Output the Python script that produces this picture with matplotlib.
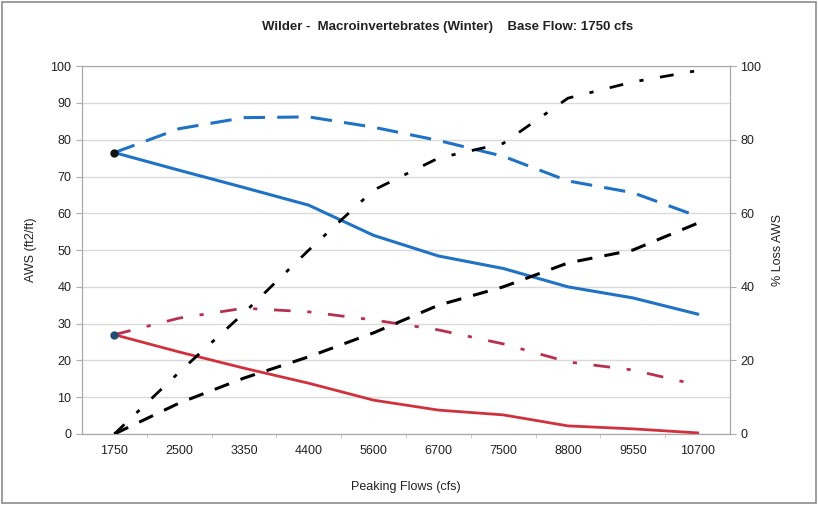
import matplotlib
matplotlib.use("Agg")
import matplotlib.pyplot as plt
from matplotlib.patches import Rectangle

plt.rcParams['font.family'] = ['Liberation Sans', 'DejaVu Sans']

flows = ["1750", "2500", "3350", "4400", "5600", "6700", "7500", "8800", "9550", "10700"]

# AWS (ft2/ft), left axis
aws_blue_solid = [76.5, 71.7, 67.0, 62.2, 54.0, 48.4, 45.0, 40.0, 37.0, 32.6]
aws_blue_dash = [76.5, 83.0, 86.0, 86.2, 83.4, 79.8, 75.5, 68.8, 65.6, 59.2]
aws_red_solid = [27.0, 22.3, 17.9, 13.8, 9.2, 6.5, 5.2, 2.2, 1.4, 0.3]
aws_red_dashdot = [27.0, 31.5, 34.2, 33.2, 31.0, 28.3, 24.5, 19.6, 17.4, 13.3]

# % Loss AWS, right axis
loss_dash = [0, 8.4, 15.2, 21.0, 27.5, 35.0, 40.0, 46.5, 50.0, 57.3]
loss_dashdot = [0, 16.8, 32.9, 50.0, 66.3, 75.0, 79.0, 91.3, 95.7, 98.8]

x = list(range(len(flows)))

fig = plt.figure(figsize=(8.18, 5.05), dpi=100)
fig.patches.append(Rectangle((0.003, 0.004), 0.994, 0.992, transform=fig.transFigure,
                             fill=False, edgecolor="#8c8c8c", linewidth=1.2))
ax = fig.add_axes([0.1002, 0.1406, 0.7922, 0.7284])
ax2 = ax.twinx()

blue = "#1f72c4"
red = "#d0313d"
crimson = "#b8304f"

ax.plot(x, aws_blue_solid, color=blue, lw=2.2, zorder=3)
ax.plot(x, aws_blue_dash, color=blue, lw=2.2, dashes=(7, 4), zorder=3)
ax.plot(x, aws_red_solid, color=red, lw=2.0, zorder=3)
ax.plot(x, aws_red_dashdot, color=crimson, lw=2.0, dashes=(6, 6, 1.5, 6), zorder=3)
ax.plot([x[0]], [aws_blue_solid[0]], "o", color="#111111", ms=5, zorder=4)
ax.plot([x[0]], [aws_red_solid[0]], "o", color="#1f4e79", ms=5, zorder=4)

ax2.plot(x, loss_dash, color="black", lw=2.2, dashes=(5, 4), zorder=3)
ax2.plot(x, loss_dashdot, color="black", lw=2.0, dashes=(5, 6, 1.5, 6), zorder=3)

ax.set_xlim(-0.5, len(flows) - 0.5)
ax.set_ylim(0, 100)
ax2.set_ylim(0, 100)
ax.set_yticks(range(0, 101, 10))
ax2.set_yticks(range(0, 101, 20))
ax.set_xticks(x)
ax.set_xticklabels(flows)
ax.set_xticks([i + 0.5 for i in x[:-1]], minor=True)
ax.tick_params(axis="x", which="major", length=0, pad=8, labelsize=9, colors="#222222")
ax.tick_params(axis="x", which="minor", length=3, color="#c0c0c0", direction="out")
ax.tick_params(axis="y", length=4, color="#b0b0b0", labelsize=9, colors="#222222")
ax2.tick_params(axis="y", length=4, color="#b0b0b0", labelsize=9, colors="#222222")

ax.yaxis.grid(True, color="#dadada", lw=1)
ax.set_axisbelow(True)
for a in (ax, ax2):
    for s in a.spines.values():
        s.set_color("#a8a8a8")
ax.spines["top"].set_color("#cfcfcf")

ax.set_xlabel("Peaking Flows (cfs)", fontsize=9, labelpad=17, color="#222222")
ax.set_ylabel("AWS (ft2/ft)", fontsize=9, labelpad=26, color="#222222")
ax.yaxis.set_label_coords(-0.07, 0.5)
ax2.set_ylabel("% Loss AWS", fontsize=9, rotation=90, labelpad=4, color="#222222")
ax2.yaxis.set_label_coords(1.065, 0.5)
fig.text(0.547, 0.946, "Wilder -  Macroinvertebrates (Winter)    Base Flow: 1750 cfs",
         ha="center", va="center", fontsize=9.5, fontweight="bold", color="#222222")

fig.savefig("out.png", dpi=100)
